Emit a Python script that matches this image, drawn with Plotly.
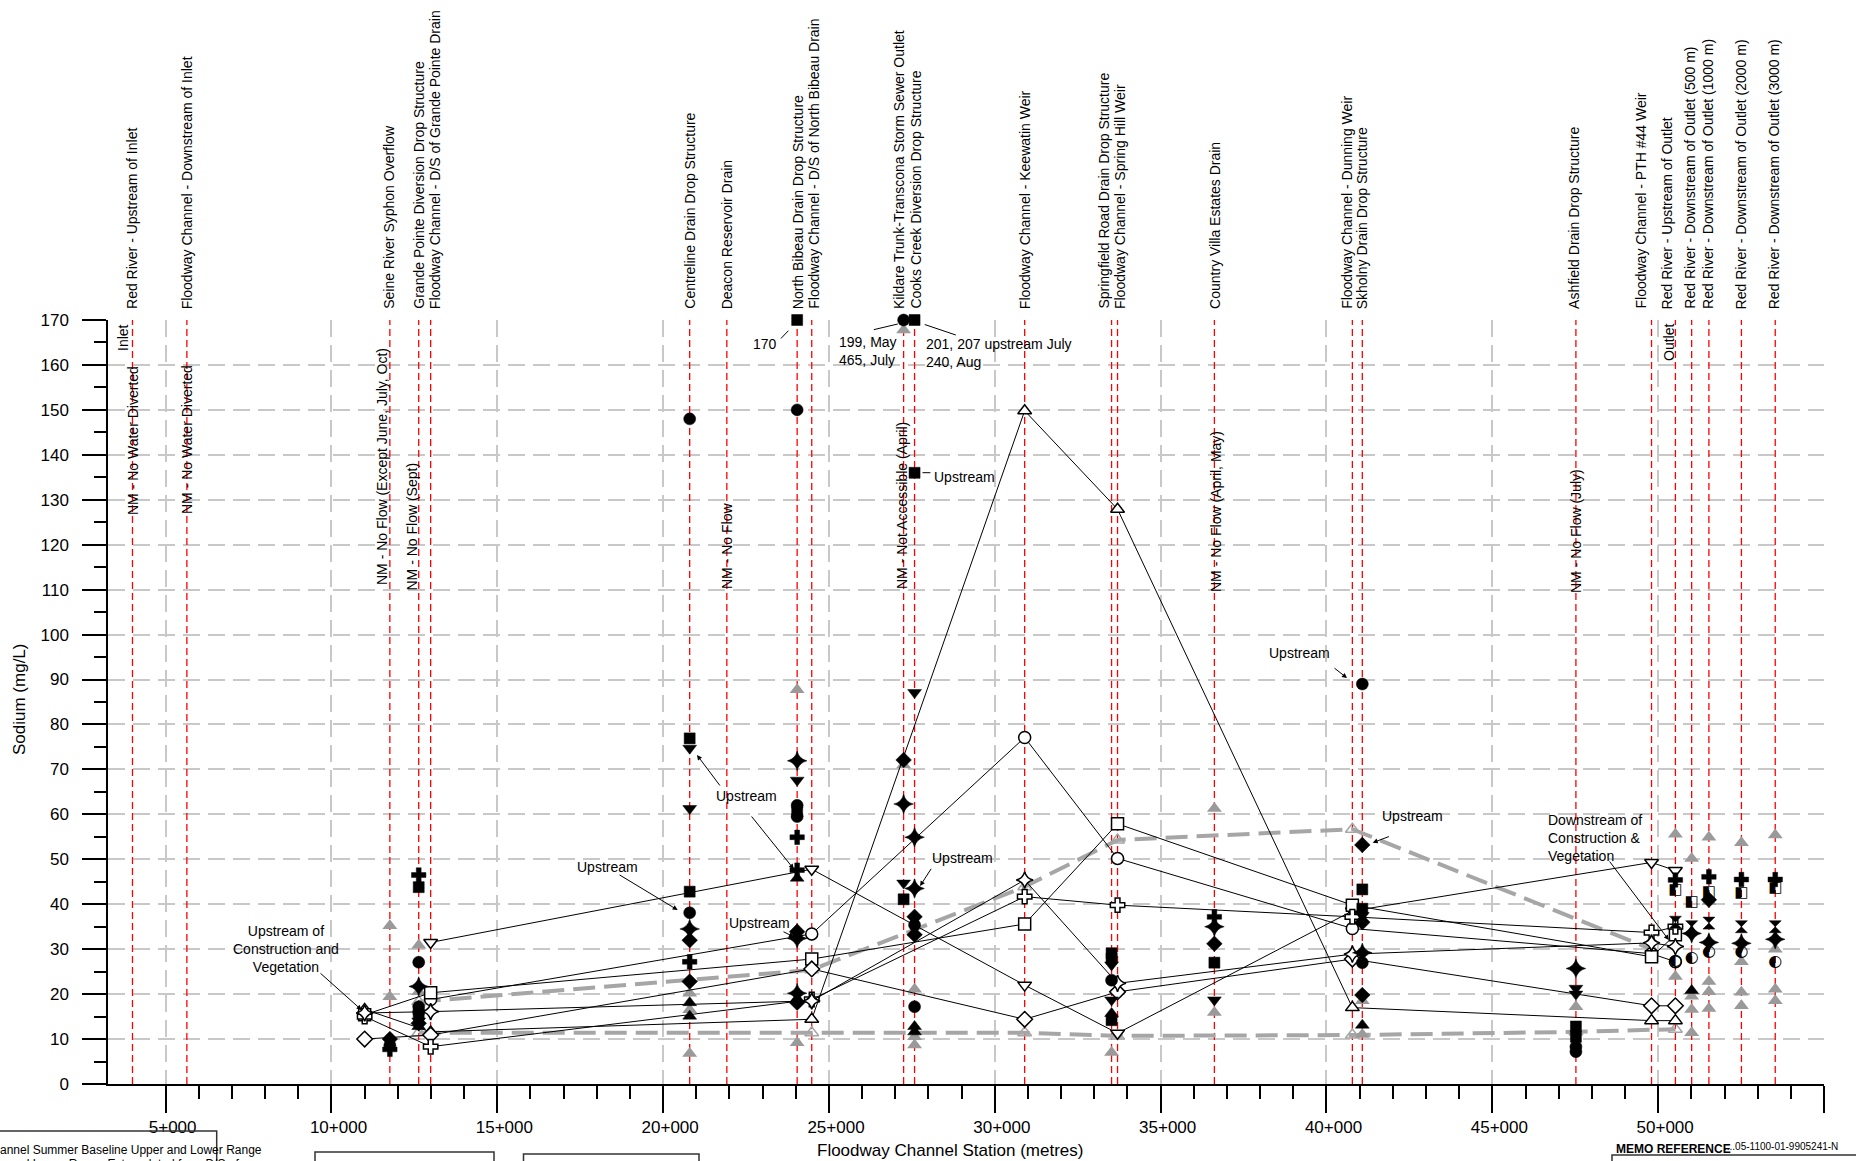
import plotly.graph_objects as go

# ---------------- axis extents ----------------
X_RANGE = [3262, 55000]
Y_RANGE = [0, 170]
X_TICK_VALUES = [5000, 10000, 15000, 20000, 25000, 30000, 35000, 40000, 45000, 50000, 55000]
X_TICK_LABELS = ["5+000", "10+000", "15+000", "20+000", "25+000", "30+000",
                 "35+000", "40+000", "45+000", "50+000", "55+000"]
X_MINOR_TICKS = [6000, 7000, 8000, 9000, 11000, 12000, 13000, 14000, 16000, 17000, 18000, 19000,
                 21000, 22000, 23000, 24000, 26000, 27000, 28000, 29000, 31000, 32000, 33000, 34000,
                 36000, 37000, 38000, 39000, 41000, 42000, 43000, 44000, 46000, 47000, 48000, 49000,
                 51000, 52000, 53000, 54000]
Y_TICK_VALUES = [0, 10, 20, 30, 40, 50, 60, 70, 80, 90, 100, 110, 120, 130, 140, 150, 160, 170]
Y_MINOR_TICKS = [5, 15, 25, 35, 45, 55, 65, 75, 85, 95, 105, 115, 125, 135, 145, 155, 165]

# ---------------- sampling sites (station, metres) ----------------
SITE_NAMES = [
    "Red River - Upstream of Inlet",
    "Floodway Channel - Downstream of Inlet",
    "Seine River Syphon Overflow",
    "Grande Pointe Diversion Drop Structure",
    "Floodway Channel - D/S of Grande Pointe Drain",
    "Centreline Drain Drop Structure",
    "Deacon Reservoir Drain",
    "North Bibeau Drain Drop Structure",
    "Floodway Channel - D/S of North Bibeau Drain",
    "Kildare Trunk-Transcona Storm Sewer Outlet",
    "Cooks Creek Diversion Drop Structure",
    "Floodway Channel - Keewatin Weir",
    "Springfield Road Drain Drop Structure",
    "Floodway Channel - Spring Hill Weir",
    "Country Villa Estates Drain",
    "Floodway Channel - Dunning Weir",
    "Skholny Drain Drop Structure",
    "Ashfield Drain Drop Structure",
    "Floodway Channel - PTH #44 Weir",
    "Red River - Upstream of Outlet",
    "Red River - Downstream of Outlet (500 m)",
    "Red River - Downstream of Outlet (1000 m)",
    "Red River - Downstream of Outlet (2000 m)",
    "Red River - Downstream of Outlet (3000 m)",
]
SITE_STATIONS = [4000, 5640, 11760, 12630, 12990, 20800, 21920, 24040, 24480, 27250, 27580,
                 30900, 33520, 33700, 36620, 40780, 41080, 47520, 49800, 50520, 51010, 51530,
                 52510, 53530]

# ---------------- Floodway channel series (open symbols joined by lines) ----------------
CH_TRI_DOWN_X = [12990, 24480, 30900, 33700, 40780, 49800, 50520]
CH_TRI_DOWN_Y = [31.5, 47.8, 22.0, 11.3, 38.5, 49.3, 47.5]
CH_TRI_UP_X = [11000, 12990, 24480, 30900, 33700, 40780, 49800, 50520]
CH_TRI_UP_Y = [16.6, 11.6, 14.4, 149.8, 127.9, 17.0, 14.1, 14.1]
CH_CIRCLE_X = [12990, 24480, 30900, 33700, 40780, 49800, 50520]
CH_CIRCLE_Y = [18.8, 33.4, 77.1, 50.2, 34.6, 29.0, 27.2]
CH_SQUARE_X = [11000, 12990, 24480, 30900, 33700, 40780, 49800, 50520]
CH_SQUARE_Y = [15.4, 20.3, 27.8, 35.6, 57.9, 39.8, 28.3, 33.2]
CH_DIAMOND_X = [11000, 12990, 24480, 30900, 33700, 40780, 49800, 50520]
CH_DIAMOND_Y = [10.0, 10.9, 25.6, 14.4, 20.5, 27.8, 17.4, 17.4]
CH_CROSS_X = [11000, 12990, 24480, 30900, 33700, 40780, 49800, 50520]
CH_CROSS_Y = [15.0, 8.3, 18.8, 41.7, 39.8, 37.2, 33.7, 35.0]
CH_STAR_X = [11000, 12990, 24480, 30900, 33700, 40780, 49800, 50520]
CH_STAR_Y = [15.8, 16.1, 18.5, 45.4, 22.4, 28.9, 31.4, 30.6]

# ---------------- summer baseline upper / lower range ----------------
BASE_UPPER_X = [12630, 24480, 30900, 33700, 40780, 49800]
BASE_UPPER_Y = [18.3, 25.4, 43.9, 54.3, 56.7, 30.0]
BASE_LOWER_X = [12630, 24480, 30900, 33700, 40780, 47520, 50520]
BASE_LOWER_Y = [11.4, 11.4, 11.4, 10.7, 10.9, 11.6, 12.2]

# ---------------- tributaries / river samples (filled symbols) ----------------
SQ_X = [12630, 12630, 20800, 20800, 24040, 24040, 27250, 27580, 27580, 33520, 33520, 33520,
        36620, 41080, 41080, 47520, 47520]
SQ_Y = [43.8, 15.5, 76.9, 42.8, 170, 60.5, 41.1, 170, 136.0, 29.1, 27.9, 14.2,
        27.0, 43.3, 39.0, 12.8, 10.5]
CIRC_X = [11760, 12630, 12630, 12630, 20800, 20800, 24040, 24040, 24040, 27250, 27580, 27580,
          33520, 41080, 41080, 47520, 47520]
CIRC_Y = [8.6, 27.1, 17.2, 16.0, 148.0, 38.1, 150.0, 62.0, 59.5, 170, 35.4, 17.2,
          23.1, 89.0, 27.0, 8.3, 7.2]
TD_X = [12630, 20800, 20800, 24040, 27250, 27580, 33520, 33520, 36620, 41080, 47520, 47520]
TD_Y = [14.0, 74.7, 61.3, 67.6, 44.7, 87.1, 26.5, 18.7, 18.7, 37.5, 21.3, 20.0]
TU_X = [12630, 20800, 20800, 24040, 24040, 27580, 27580, 33520, 41080, 51010]
TU_Y = [12.8, 18.1, 15.1, 45.8, 19.0, 12.8, 11.6, 15.7, 13.1, 20.8]
DM_X = [11760, 12630, 20800, 20800, 24040, 24040, 27250, 27580, 27580, 36620, 41080, 41080,
        41080, 51530]
DM_Y = [10.0, 13.5, 32.0, 22.8, 33.9, 18.1, 72.1, 37.2, 33.2, 31.2, 53.2, 36.0, 19.8, 41.0]
ST_X = [12630, 20800, 24040, 24040, 24040, 27250, 27580, 27580, 36620, 41080, 47520,
        51010, 51530, 52510, 53530]
ST_Y = [21.7, 34.5, 71.9, 32.4, 20.2, 62.3, 54.9, 43.5, 35.0, 29.2, 25.7,
        33.5, 31.5, 31.3, 32.2]
CR_X = [11760, 12630, 20800, 24040, 24040, 36620, 50520, 51530, 52510, 53530]
CR_Y = [7.7, 46.5, 27.2, 54.9, 47.6, 37.2, 45.4, 46.1, 45.5, 45.5]
GRAY_X = [11760, 11760, 12630, 12630, 20800, 20800, 20800, 24040, 24040, 27250, 27250,
          27580, 27580, 27580, 33520, 36620, 36620, 41080, 41080, 47520, 50520, 50520,
          51010, 51010, 51010, 51010, 51530, 51530, 51530, 51530, 51530,
          52510, 52510, 52510, 52510, 53530, 53530, 53530, 53530]
GRAY_Y = [35.2, 19.4, 30.9, 20.5, 20.2, 16.5, 6.8, 87.7, 9.2, 167.8, 71.0,
          21.1, 10.5, 8.7, 7.0, 61.3, 15.9, 18.5, 11.0, 17.2, 55.6, 23.9,
          50.2, 19.5, 16.6, 11.4, 54.9, 40.6, 22.8, 20.5, 16.8,
          53.7, 27.2, 20.4, 17.4, 55.4, 30.0, 21.1, 18.5]
HG_X = [50520, 51010, 51530, 52510, 53530]
HG_Y = [36.0, 35.0, 35.8, 35.0, 35.0]
HALFSQ_X = [50520, 51010, 51530, 52510, 53530]
HALFSQ_Y = [43.2, 40.5, 42.6, 42.4, 43.5]
HALFC_X = [50520, 51010, 51530, 52510, 53530]
HALFC_Y = [27.4, 28.0, 29.4, 29.3, 27.2]

# ---------------- geometry helpers (layout only) ----------------
W, H = 1856, 1161
ML, MR, MT, MB = 108, 32, 320, 77
PW = W - ML - MR
PH = H - MT - MB


def px_x(px):
    return X_RANGE[0] + (px - ML) / PW * (X_RANGE[1] - X_RANGE[0])


def py_y(py):
    return Y_RANGE[0] + (MT + PH - py) / PH * (Y_RANGE[1] - Y_RANGE[0])


def pap_x(px):
    return (px - ML) / PW


def pap_y(py):
    return (MT + PH - py) / PH


FONT = "Liberation Sans, Arial, Helvetica, sans-serif"
NARROW = "Liberation Sans Narrow, " + FONT
fig = go.Figure()

# baseline range lines
for bx, by in ((BASE_UPPER_X, BASE_UPPER_Y), (BASE_LOWER_X, BASE_LOWER_Y)):
    fig.add_trace(go.Scatter(
        x=bx, y=by, mode="lines+markers",
        line=dict(color="#a6a6a6", width=4, dash="22px,9px"),
        marker=dict(symbol="triangle-up-open", size=12, color="#a6a6a6", line=dict(width=1.5)),
        cliponaxis=False, hoverinfo="skip"))

# gray triangles
fig.add_trace(go.Scatter(
    x=GRAY_X, y=GRAY_Y, mode="markers",
    marker=dict(symbol="triangle-up", size=13, color="#9a9a9a"), cliponaxis=False))

# channel series
for cx, cy, sym in ((CH_TRI_DOWN_X, CH_TRI_DOWN_Y, "triangle-down"),
                    (CH_TRI_UP_X, CH_TRI_UP_Y, "triangle-up"),
                    (CH_CIRCLE_X, CH_CIRCLE_Y, "circle"),
                    (CH_SQUARE_X, CH_SQUARE_Y, "square"),
                    (CH_DIAMOND_X, CH_DIAMOND_Y, "diamond"),
                    (CH_CROSS_X, CH_CROSS_Y, "cross"),
                    (CH_STAR_X, CH_STAR_Y, "star-diamond")):
    fig.add_trace(go.Scatter(
        x=cx, y=cy, mode="lines+markers",
        line=dict(color="black", width=1),
        marker=dict(symbol=sym, size=12, color="white", line=dict(color="black", width=1.5)),
        cliponaxis=False))

# filled symbols
for fx, fy, sym, sz in ((SQ_X, SQ_Y, "square", 11), (CIRC_X, CIRC_Y, "circle", 12),
                        (TD_X, TD_Y, "triangle-down", 12), (TU_X, TU_Y, "triangle-up", 12),
                        (DM_X, DM_Y, "diamond", 12), (ST_X, ST_Y, "star-diamond", 14),
                        (CR_X, CR_Y, "cross", 12), (HG_X, HG_Y, "hourglass", 12)):
    fig.add_trace(go.Scatter(
        x=fx, y=fy, mode="markers",
        marker=dict(symbol=sym, size=sz, color="black", line=dict(color="black", width=0.5)),
        cliponaxis=False))

# half-filled glyphs
fig.add_trace(go.Scatter(x=HALFSQ_X, y=HALFSQ_Y, mode="text", text=["\u25e7"] * len(HALFSQ_X),
                         textfont=dict(family="DejaVu Sans", size=15, color="black"),
                         cliponaxis=False))
fig.add_trace(go.Scatter(x=HALFC_X, y=HALFC_Y, mode="text", text=["\u25d0"] * len(HALFC_X),
                         textfont=dict(family="DejaVu Sans", size=16, color="black"),
                         cliponaxis=False))

# red station lines
shapes = []
for s in SITE_STATIONS:
    shapes.append(dict(type="line", xref="x", yref="y", x0=s, x1=s, y0=0, y1=170,
                       line=dict(color="#ff0000", width=1.3, dash="7px,4px"), layer="between"))

# partial legend / memo boxes cut off at the bottom
for x0, x1, y0 in ((-10, 216.7, 1131), (315, 494, 1152), (523.5, 699, 1154), (1612, 1870, 1155)):
    shapes.append(dict(type="rect", xref="paper", yref="paper",
                       x0=pap_x(x0), x1=pap_x(x1), y0=pap_y(y0), y1=pap_y(1200),
                       line=dict(color="#333333", width=1.5), fillcolor="rgba(0,0,0,0)"))

annotations = []
# top site labels
LABEL_SHIFT = [-1, 0, -1, 0, 4, 0, 0, 1, 2, -5, 1, 0, -8, 2, 0, -6, 0, -2, -11, -8, -2, -1, 0, -1]
for name, s, sh in zip(SITE_NAMES, SITE_STATIONS, LABEL_SHIFT):
    annotations.append(dict(x=s, y=pap_y(311), xref="x", yref="paper", text=name, textangle=-90,
                            showarrow=False, xanchor="center", yanchor="bottom", xshift=sh,
                            font=dict(family=FONT, size=14, color="black")))

# rotated notes inside plot
NM_NOTES = [("Inlet", 123, 338), ("NM - No Water Diverted", 133, 441),
            ("NM - No Water Diverted", 187, 440), ("NM - No Flow (Except June, July, Oct)", 382, 467),
            ("NM - No Flow (Sept)", 411.5, 527), ("NM - No Flow", 727, 546),
            ("NM - Not Accessible (April)", 902, 506), ("NM - No Flow (April, May)", 1216, 512),
            ("NM - No Flow (July)", 1576, 531), ("Outlet", 1669, 343)]
for t, px, py in NM_NOTES:
    annotations.append(dict(x=px_x(px), y=py_y(py), xref="x", yref="y", text=t, textangle=-90,
                            showarrow=False, xanchor="center", yanchor="middle",
                            font=dict(family=FONT, size=14, color="black")))

# horizontal notes
NOTES = [("Upstream of<br>Construction and<br>Vegetation", 286, 949, "center"),
         ("Upstream", 607, 867, "center"), ("Upstream", 746, 796, "center"),
         ("Upstream", 759, 923, "center"), ("170", 765, 344, "center"),
         ("199, May<br>465, July", 837, 350.5, "left"),
         ("201, 207 upstream July<br>240, Aug", 924, 353, "left"),
         ("Upstream", 932, 477, "left"), ("Upstream", 962.5, 858, "center"),
         ("Upstream", 1299.5, 653, "center"), ("Upstream", 1412.8, 816, "center"),
         ("Downstream of<br>Construction &<br>Vegetation", 1546, 838, "left")]
for t, px, py, al in NOTES:
    annotations.append(dict(x=px_x(px), y=py_y(py), xref="x", yref="y", text=t, showarrow=False,
                            xanchor=al, yanchor="middle", align=al,
                            font=dict(family=FONT, size=14, color="black")))

# leader lines / arrows: (tail px, head px, arrowhead)
ARROWS = [((319, 972), (361.6, 1010), 2), ((618, 874), (677.7, 910), 2),
          ((721, 787), (697, 755), 2), ((750.4, 815), (793.8, 869), 2),
          ((782, 931), (794, 937), 2), ((779.5, 340), (788.4, 330.7), 0),
          ((872.3, 330), (897.8, 324), 0), ((923.2, 324), (955.8, 335), 0),
          ((921, 472.7), (930.4, 472.7), 0), ((932.1, 867.3), (920.1, 886), 2),
          ((1333, 667), (1347, 678), 2), ((1390.4, 836), (1372.7, 842.7), 2),
          ((1608.5, 860), (1668.8, 940), 2)]
for (tx, ty), (hx, hy), ah in ARROWS:
    annotations.append(dict(x=px_x(hx), y=py_y(hy), xref="x", yref="y", text="",
                            showarrow=True, ax=tx - hx, ay=ty - hy, axref="pixel", ayref="pixel",
                            arrowhead=ah, arrowsize=1, arrowwidth=1, arrowcolor="black",
                            standoff=0, startstandoff=0))

# axis titles
annotations.append(dict(x=pap_x(950), y=pap_y(1150), xref="paper", yref="paper",
                        text="Floodway Channel Station (metres)", showarrow=False,
                        xanchor="center", yanchor="middle",
                        font=dict(family=FONT, size=17, color="black")))
annotations.append(dict(x=pap_x(19), y=pap_y(700), xref="paper", yref="paper",
                        text="Sodium (mg/L)", textangle=-90, showarrow=False,
                        xanchor="center", yanchor="middle",
                        font=dict(family=FONT, size=17, color="black")))

# cut-off legend / memo texts
annotations.append(dict(x=pap_x(-2), y=pap_y(1150), xref="paper", yref="paper",
                        text="annel Summer Baseline Upper and Lower Range", showarrow=False,
                        xanchor="left", yanchor="middle",
                        font=dict(family=NARROW, size=12, color="black")))
annotations.append(dict(x=pap_x(-2), y=pap_y(1164), xref="paper", yref="paper",
                        text="annel Lower Range Extrapolated from D/S of", showarrow=False,
                        xanchor="left", yanchor="middle",
                        font=dict(family=NARROW, size=12, color="black")))
annotations.append(dict(x=pap_x(1614), y=pap_y(1149), xref="paper", yref="paper",
                        text="<b>MEMO REFERENCE</b>", showarrow=False,
                        xanchor="left", yanchor="middle",
                        font=dict(family=NARROW, size=12, color="black")))
annotations.append(dict(x=pap_x(1722), y=pap_y(1146), xref="paper", yref="paper",
                        text="....05-1100-01-9905241-N", showarrow=False,
                        xanchor="left", yanchor="middle",
                        font=dict(family=NARROW, size=10, color="black")))

fig.update_layout(
    width=W, height=H, autosize=False,
    margin=dict(l=ML, r=MR, t=MT, b=MB),
    paper_bgcolor="white", plot_bgcolor="white",
    showlegend=False,
    font=dict(family=FONT, size=17, color="black"),
    shapes=shapes, annotations=annotations,
    xaxis=dict(range=X_RANGE, tickvals=X_TICK_VALUES, ticktext=X_TICK_LABELS,
               showgrid=True, gridcolor="#c8c8c8", gridwidth=2, griddash="17px,8px",
               showline=True, linecolor="black", linewidth=1.5, zeroline=False,
               ticks="outside", ticklen=27, tickwidth=1.5, tickcolor="black",
               ticklabelshift=7,
               tickfont=dict(family=FONT, size=17),
               minor=dict(tickvals=X_MINOR_TICKS, ticks="outside", ticklen=13, tickwidth=1.5,
                          tickcolor="black", showgrid=False)),
    yaxis=dict(range=Y_RANGE, tickvals=Y_TICK_VALUES,
               showgrid=True, gridcolor="#c8c8c8", gridwidth=2, griddash="17px,8px",
               showline=True, linecolor="black", linewidth=1.5, zeroline=False,
               ticks="outside", ticklen=24, tickwidth=1.5, tickcolor="black",
               ticklabelstandoff=10,
               tickfont=dict(family=FONT, size=17),
               minor=dict(tickvals=Y_MINOR_TICKS, ticks="outside", ticklen=12, tickwidth=1.5,
                          tickcolor="black", showgrid=False)),
)

fig.write_html("out.html")
